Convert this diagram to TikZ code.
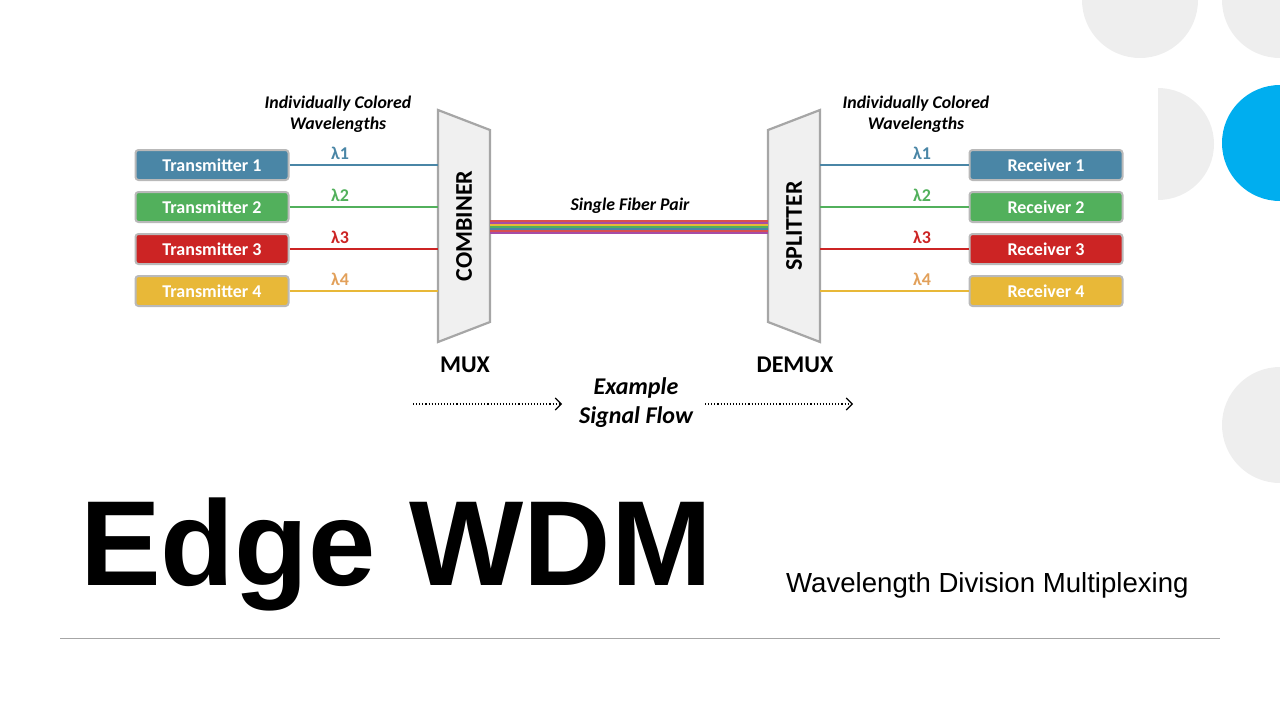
\documentclass[tikz,border=0pt]{standalone}
\usepackage{fontspec}
\setmainfont{Carlito}
\newfontfamily\headfont{Liberation Sans}
\usetikzlibrary{positioning,shapes,arrows,arrows.meta,calc}
\definecolor{txblue}{RGB}{74,134,166}
\definecolor{txgreen}{RGB}{82,176,92}
\definecolor{txred}{RGB}{204,36,36}
\definecolor{txyellow}{RGB}{232,184,56}
\definecolor{lamyellow}{RGB}{226,160,90}
\definecolor{dotgray}{RGB}{238,238,238}
\definecolor{dotblue}{RGB}{0,174,239}
\begin{document}
\begin{tikzpicture}[x=1pt, y=-1pt,
    unit/.style={rectangle, rounded corners=3pt, draw=gray!55, line width=2pt, minimum width=153pt, minimum height=30pt, text=white, font=\bfseries\fontsize{18}{20}\selectfont},
    lam/.style={font=\bfseries\fontsize{18}{20}\selectfont},
    wave/.style={line width=2.2pt},
    note/.style={font=\bfseries\itshape\fontsize{17.8}{21}\selectfont, align=center},
    big/.style={font=\bfseries\fontsize{24}{27}\selectfont},
    flow/.style={dotted, line width=1.1pt, -{Straight Barb[length=6pt]}}]
    \useasboundingbox (0,0) rectangle (1280,720);

    % Background dots
    \fill[dotgray] (1140,0) circle (58);
    \fill[dotgray] (1280,0) circle (58);
    \begin{scope}
        \clip (1158,0) rectangle (1280,300);
        \fill[dotgray] (1158,144) circle (56);
    \end{scope}
    \fill[dotblue] (1280,143) circle (58);
    \fill[dotgray] (1280,425) circle (58);

    % MUX and DEMUX
    \draw[gray!70, line width=2.2pt, fill=gray!12] (438,110) -- (490,130) -- (490,322) -- (438,342) -- cycle;
    \node[big, rotate=90] (comb) at (464,226) {COMBINER};
    \draw[gray!70, line width=2.2pt, fill=gray!12] (820,110) -- (768,130) -- (768,322) -- (820,342) -- cycle;
    \node[big, rotate=90] (split) at (794,226) {SPLITTER};

    % Transmitters, receivers, wavelengths
    \foreach \i/\c/\lc/\y in {1/txblue/txblue/165, 2/txgreen/txgreen/207, 3/txred/txred/249, 4/txyellow/lamyellow/291} {
        \node[unit, fill=\c] (tx\i) at (212,\y) {Transmitter \i};
        \node[unit, fill=\c] (rx\i) at (1046,\y) {Receiver \i};
        \coordinate (mi\i) at (438,\y);
        \coordinate (do\i) at (820,\y);
        \draw[wave, \c] (tx\i.east) -- (mi\i);
        \draw[wave, \c] (do\i) -- (rx\i.west);
        \node[lam, text=\lc] at (340,\y-12) {λ\i};
        \node[lam, text=\lc] at (922,\y-12) {λ\i};
    }

    % Single fiber
    \foreach \c [count=\k] in {txred!80, violet!70, txyellow, txgreen, txblue, txred!80, violet!70} {
        \coordinate (fa\k) at (490,219+2*\k);
        \coordinate (fb\k) at (768,219+2*\k);
        \draw[\c, line width=2pt] (fa\k) -- (fb\k);
    }
    \node[note] (fiber) at (630,206) {Single Fiber Pair};

    % Labels
    \node[note] (lbl1) at (338,114) {Individually Colored\\Wavelengths};
    \node[note] (lbl2) at (916,114) {Individually Colored\\Wavelengths};
    \node[big] (mux) at (465,365) {MUX};
    \node[big] (demux) at (795,365) {DEMUX};
    \node[font=\bfseries\itshape\fontsize{24}{29}\selectfont, align=center] (sig) at (636,403) {Example\\Signal Flow};
    \coordinate (fl1) at (413,404);
    \coordinate (fl2) at (562,404);
    \coordinate (fl3) at (705,404);
    \coordinate (fl4) at (853,404);
    \draw[flow] (fl1) -- (fl2);
    \draw[flow] (fl3) -- (fl4);

    % Title
    \node[font=\headfont\bfseries\fontsize{121}{130}\selectfont, anchor=base west, inner sep=0] (title) at (80,585) {Edge WDM};
    \node[font=\headfont\fontsize{27.6}{31}\selectfont, anchor=base west, inner sep=0] (sub) at (786,592) {Wavelength Division Multiplexing};
    \draw[gray!70, line width=1pt] (60,638) -- (1220,638);
\end{tikzpicture}
\end{document}
